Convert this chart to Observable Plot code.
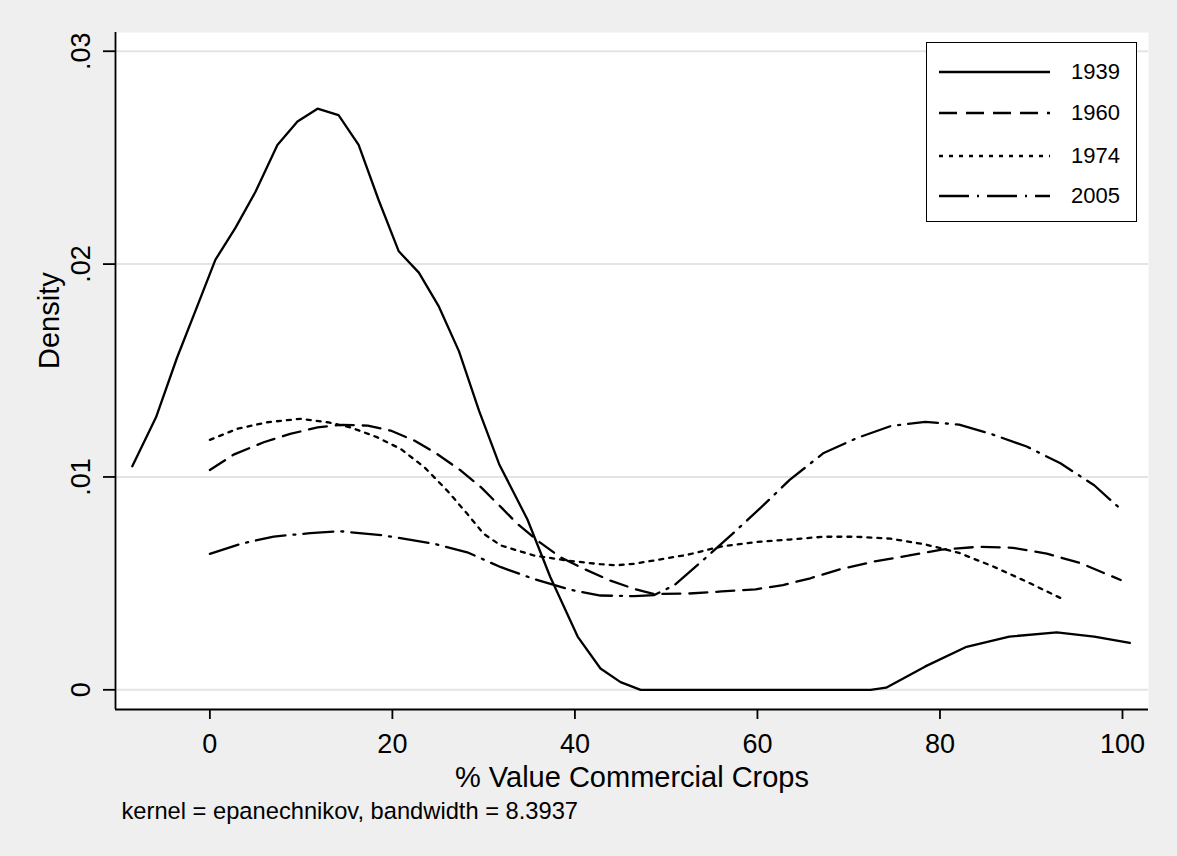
<!DOCTYPE html>
<html>
<head>
<meta charset="utf-8">
<script src="https://cdn.jsdelivr.net/npm/d3@7"></script>
<script src="https://cdn.jsdelivr.net/npm/@observablehq/plot@0.6"></script>
<style>
  html, body { margin: 0; padding: 0; background: #efefef; }
  #wrap { position: relative; width: 1177px; height: 856px; font-family: "Liberation Sans", Arial, sans-serif; }
  #legend { position: absolute; left: 926px; top: 42px; width: 209px; height: 178px; background: #fff; border: 1.6px solid #000; }
  .row { position: absolute; left: 0; height: 20px; width: 100%; }
  .row svg { position: absolute; left: 12px; top: 0; }
  .row span { position: absolute; left: 144px; top: -3px; font-size: 22px; line-height: 26px; color: #000; }
</style>
</head>
<body>
<div id="wrap"></div>
<script>
// ---- data ----
const seriesNames = ["1939", "1960", "1974", "2005"];

const x1939 = [-8.5, -5.9, -3.6, -1.4, 0.6, 2.8, 5.0, 7.4, 9.6, 11.8, 14.1, 16.3, 18.5, 20.7, 22.9, 25.1, 27.3, 29.5, 31.7, 34.8, 37.3, 40.3, 42.8, 45.0, 47.2, 72.4, 74.1, 78.4, 82.8, 87.6, 92.8, 96.9, 100.8];
const y1939 = [0.0105, 0.0128, 0.0156, 0.0180, 0.0202, 0.0217, 0.0234, 0.0256, 0.0267, 0.0273, 0.0270, 0.0256, 0.0230, 0.0206, 0.0196, 0.0180, 0.0159, 0.0131, 0.0106, 0.0080, 0.0053, 0.0025, 0.0010, 0.00036, 0.0, 0.0, 0.0001, 0.0011, 0.0020, 0.0025, 0.0027, 0.0025, 0.0022];

const x1960 = [0.0, 2.6, 5.9, 8.8, 11.8, 14.5, 17.3, 19.8, 22.4, 24.9, 27.5, 29.7, 31.9, 33.7, 35.9, 38.4, 41.0, 43.9, 46.5, 48.7, 52.4, 56.1, 59.8, 62.8, 65.8, 69.1, 72.8, 76.5, 80.2, 84.3, 88.0, 91.7, 95.4, 99.8];
const y1960 = [0.01033, 0.01105, 0.01163, 0.01202, 0.01233, 0.01245, 0.01241, 0.01218, 0.01171, 0.01108, 0.01030, 0.00952, 0.00858, 0.00780, 0.00701, 0.00623, 0.00568, 0.00513, 0.00474, 0.00450, 0.00452, 0.00462, 0.00472, 0.00492, 0.00524, 0.00567, 0.00603, 0.00630, 0.00659, 0.00672, 0.00667, 0.00640, 0.00595, 0.00516];

const x1974 = [0.0, 3.0, 6.3, 9.9, 12.9, 15.4, 18.3, 20.9, 23.5, 26.0, 28.2, 30.0, 31.9, 35.5, 39.2, 42.8, 44.5, 46.5, 48.7, 52.4, 56.1, 59.8, 63.5, 67.2, 70.9, 74.6, 78.4, 82.1, 85.8, 89.5, 93.7];
const y1974 = [0.01174, 0.01226, 0.01257, 0.01273, 0.01257, 0.01233, 0.01187, 0.01132, 0.01046, 0.00936, 0.00827, 0.00733, 0.00678, 0.00631, 0.00607, 0.00590, 0.00585, 0.00592, 0.00608, 0.00635, 0.00674, 0.00694, 0.00706, 0.00719, 0.00719, 0.00710, 0.00683, 0.00643, 0.00580, 0.00508, 0.00421];

const x2005 = [0.0, 3.4, 7.0, 11.0, 14.3, 19.1, 24.6, 28.2, 31.9, 35.5, 39.5, 42.8, 46.5, 48.7, 50.9, 54.3, 57.2, 60.6, 63.5, 67.2, 70.9, 74.6, 78.4, 82.1, 85.8, 89.5, 93.2, 96.9, 99.8];
const y2005 = [0.00639, 0.00686, 0.00720, 0.00736, 0.00745, 0.00725, 0.00686, 0.00646, 0.00576, 0.00521, 0.00470, 0.00443, 0.00440, 0.00445, 0.00492, 0.00619, 0.00730, 0.00865, 0.00985, 0.01111, 0.01183, 0.01239, 0.01259, 0.01246, 0.01199, 0.01143, 0.01064, 0.00961, 0.00849];

const xTicks = [0, 20, 40, 60, 80, 100];
const yTicks = [0, 0.01, 0.02, 0.03];
const yTickLabels = ["0", ".01", ".02", ".03"];
const xTitle = "% Value Commercial Crops";
const yTitle = "Density";
const note = "kernel = epanechnikov, bandwidth = 8.3937";

// ---- styles ----
const dashes = { "1939": null, "1960": "18,9", "1974": "4,6", "2005": "30,8,2,8" };
const xs = { "1939": x1939, "1960": x1960, "1974": x1974, "2005": x2005 };
const ys = { "1939": y1939, "1960": y1960, "1974": y1974, "2005": y2005 };

const xDomain = [-10.34, 102.85];
const yDomain = [-0.000925, 0.03088];

const lineMarks = seriesNames.map(name => {
  const rows = xs[name].map((x, i) => ({ x, y: ys[name][i] }));
  return Plot.line(rows, { x: "x", y: "y", stroke: "#000", strokeWidth: 2.3, strokeDasharray: dashes[name] || undefined, strokeLinejoin: "miter" });
});

const chart = Plot.plot({
  width: 1177,
  height: 856,
  marginLeft: 115,
  marginRight: 29,
  marginTop: 32,
  marginBottom: 147,
  style: { background: "#efefef", fontFamily: "'Liberation Sans', Arial, sans-serif", color: "#000" },
  x: { domain: xDomain },
  y: { domain: yDomain },
  marks: [
    Plot.frame({ fill: "#fff", stroke: null }),
    Plot.gridY(yTicks, { stroke: "#e4e4e4", strokeOpacity: 1, strokeWidth: 2 }),
    Plot.ruleX([xDomain[0]], { stroke: "#000", strokeWidth: 1.8 }),
    Plot.ruleY([yDomain[0]], { stroke: "#000", strokeWidth: 1.8 }),
    Plot.axisX(xTicks, { tickSize: 10, tickPadding: 14, fontSize: 27, strokeWidth: 1.8, label: null, tickFormat: d => String(d) }),
    Plot.axisY(yTicks, { tickSize: 12, tickPadding: 14, tickRotate: -90, fontSize: 27, strokeWidth: 1.8, label: null, tickFormat: (d) => yTickLabels[yTicks.indexOf(d)] }),
    ...lineMarks,
    Plot.text([yTitle], { frameAnchor: "left", rotate: -90, lineAnchor: "bottom", dx: -57, dy: -2, fontSize: 29 }),
    Plot.text([xTitle], { frameAnchor: "bottom", lineAnchor: "bottom", dy: 77, fontSize: 29 }),
    Plot.text([note], { frameAnchor: "bottom-left", textAnchor: "start", lineAnchor: "bottom", dx: 6, dy: 109, fontSize: 23.7 })
  ]
});

const wrap = document.getElementById("wrap");
wrap.appendChild(chart);

// ---- legend ----
const legend = document.createElement("div");
legend.id = "legend";
const rowTops = [29.4, 70, 112.7, 153.4];
seriesNames.forEach((name, i) => {
  const row = document.createElement("div");
  row.className = "row";
  row.style.top = (rowTops[i] - 10) + "px";
  const dash = dashes[name] ? ` stroke-dasharray="${dashes[name]}"` : "";
  row.innerHTML = `<svg width="112" height="20"><line x1="0" y1="10" x2="111" y2="10" stroke="#000" stroke-width="2.3"${dash}/></svg><span>${name}</span>`;
  legend.appendChild(row);
});
wrap.appendChild(legend);
</script>
</body>
</html>
